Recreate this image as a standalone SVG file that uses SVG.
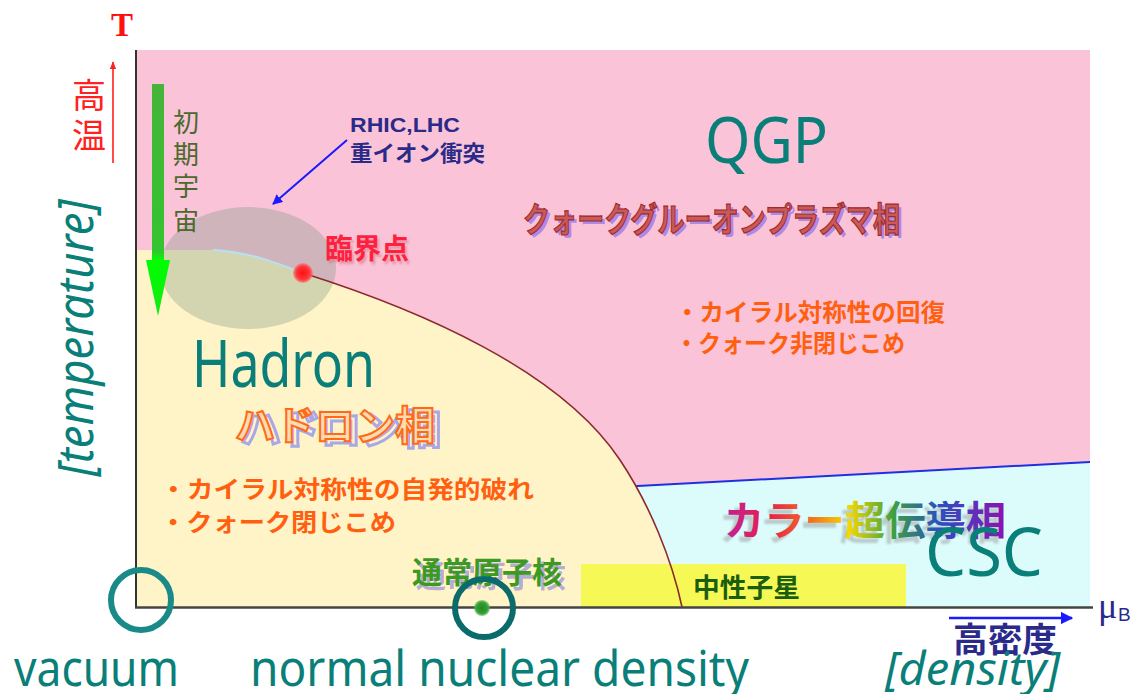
<svg xmlns="http://www.w3.org/2000/svg" width="1131" height="694" viewBox="0 0 1131 694">
<style>
.teal{font-family:"Noto Sans","Open Sans",sans-serif;fill:#0a7f79;}
.jp{font-family:"Noto Sans CJK JP","Noto Sans",sans-serif;}
.orange{fill:#ff6010;font-weight:bold;}
</style>
<defs>
<linearGradient id="gArrow" x1="0" y1="84" x2="0" y2="316" gradientUnits="userSpaceOnUse">
<stop offset="0" stop-color="#46b43a"/><stop offset="0.72" stop-color="#34c430"/><stop offset="0.76" stop-color="#00ff00"/><stop offset="1" stop-color="#14e814"/>
</linearGradient>
<linearGradient id="gRainbow" x1="724" y1="0" x2="1006" y2="0" gradientUnits="userSpaceOnUse">
<stop offset="0" stop-color="#c0209a"/><stop offset="0.16" stop-color="#e8204a"/><stop offset="0.3" stop-color="#f06a20"/><stop offset="0.44" stop-color="#f8d800"/><stop offset="0.6" stop-color="#3ea040"/><stop offset="0.76" stop-color="#2a50c0"/><stop offset="1" stop-color="#9010b0"/>
</linearGradient>
<radialGradient id="gRed"><stop offset="0" stop-color="#ff1010"/><stop offset="0.7" stop-color="#ff3a3a"/><stop offset="1" stop-color="#ff6a7a" stop-opacity="0.6"/></radialGradient>
<radialGradient id="gGreen"><stop offset="0" stop-color="#1f8a1f"/><stop offset="0.7" stop-color="#36a036"/><stop offset="1" stop-color="#5ab85a" stop-opacity="0.6"/></radialGradient>
<marker id="mBlue" viewBox="0 0 10 10" refX="9" refY="5" markerWidth="5" markerHeight="5" orient="auto"><path d="M0,0 L10,5 L0,10 z" fill="#1a1aff"/></marker>
<marker id="mRed" viewBox="0 0 10 10" refX="9" refY="5" markerWidth="5" markerHeight="5" orient="auto"><path d="M0,1 L10,5 L0,9 z" fill="#ff2020"/></marker>
<filter id="blur1"><feGaussianBlur stdDeviation="1.2"/></filter>
</defs>
<rect width="1131" height="694" fill="#ffffff"/>

<g id="regions">
<rect id="qgp-region" x="136" y="50" width="954" height="557" fill="#fac3d8"/>
<polygon id="csc-region" points="600,488 1090,462 1090,607 600,607" fill="#dcfcfc"/>
<line x1="600" y1="488" x2="1090" y2="462" stroke="#2030e0" stroke-width="2"/>
<path id="hadron-region" d="M136,250 L213,250 C250,252 280,264 303,273 C420,310 560,370 620,460 C650,505 672,560 682,607 L136,607 Z" fill="#fff3c8"/>
<rect id="neutron-star-region" x="581" y="564" width="325" height="43" fill="#f6f955"/>
<ellipse id="collision-ellipse" cx="248" cy="268" rx="88" ry="61" fill="#7a9880" fill-opacity="0.33"/>
<path d="M213,250 C250,252 280,264 303,273" fill="none" stroke="#b8e0f0" stroke-width="2"/>
<path d="M303,273 C420,310 560,370 620,460 C650,505 672,560 682,607" fill="none" stroke="#8a2a30" stroke-width="1.6"/>
</g>

<g id="axes">
<line x1="136" y1="50" x2="136" y2="608" stroke="#333" stroke-width="2"/>
<line x1="135" y1="607.5" x2="1093" y2="607.5" stroke="#444" stroke-width="2.5"/>
<text x="122" y="36" text-anchor="middle" font-family="Liberation Serif,serif" font-weight="bold" font-size="33" fill="#ff1010">T</text>
<text x="1098" y="618" font-family="Liberation Serif,serif" font-size="36" fill="#2a2a8a">μ</text>
<text x="1118" y="621" font-family="Liberation Sans,sans-serif" font-size="19" fill="#2a2a8a">B</text>
</g>

<g id="connectors">
<line x1="113" y1="163" x2="113" y2="62" stroke="#ff2020" stroke-width="1.6" marker-end="url(#mRed)"/>
<line x1="347" y1="140" x2="273" y2="204" stroke="#1a1aff" stroke-width="2" marker-end="url(#mBlue)"/>
<line x1="949" y1="618" x2="1072" y2="618" stroke="#1a1aff" stroke-width="2.5" marker-end="url(#mBlue)"/>
<g id="early-universe-arrow">
<rect x="152" y="84" width="12" height="178" fill="url(#gArrow)"/>
<polygon points="146,260 170,260 158,316" fill="url(#gArrow)"/>
</g>
</g>

<g id="high-temp">
<text class="jp" x="89" y="108" text-anchor="middle" font-size="34" fill="#ff2020">高</text>
<text class="jp" x="89" y="148" text-anchor="middle" font-size="34" fill="#ff2020">温</text>
</g>

<g id="early-universe" class="jp" font-size="26" fill="#4a6a2e" text-anchor="middle">
<text x="186" y="132">初</text>
<text x="186" y="164">期</text>
<text x="186" y="196">宇</text>
<text x="186" y="230">宙</text>
</g>

<g id="temperature-label">
<text class="teal" transform="translate(93,338) rotate(-90)" text-anchor="middle" font-size="50" font-style="italic" textLength="277" lengthAdjust="spacingAndGlyphs">[temperature]</text>
</g>

<g id="collision-label" class="jp" fill="#2a2a88" font-weight="bold">
<text x="350" y="132" font-family="Liberation Sans,sans-serif" font-size="21" textLength="110" lengthAdjust="spacingAndGlyphs">RHIC,LHC</text>
<text x="350" y="161" font-size="22" textLength="135" lengthAdjust="spacingAndGlyphs">重イオン衝突</text>
</g>

<g id="critical-point">
<text class="jp" x="327" y="262" font-size="28" fill="#d06a70" opacity="0.5" filter="url(#blur1)" font-weight="bold">臨界点</text>
<text class="jp" x="325" y="259" font-size="28" fill="#ff2040" font-weight="bold">臨界点</text>
<circle cx="303" cy="273" r="10" fill="url(#gRed)"/>
</g>

<g id="qgp">
<text class="teal" x="705" y="163" font-size="63" textLength="123" lengthAdjust="spacingAndGlyphs">QGP</text>
<text class="jp" x="526" y="235" font-size="34" fill="#9a7ce8" opacity="0.8" textLength="377" lengthAdjust="spacingAndGlyphs" font-weight="bold">クォークグルーオンプラズマ相</text>
<text class="jp" x="523" y="232" font-size="34" fill="#c85a5a" stroke="#a02a2a" stroke-width="1.2" textLength="377" lengthAdjust="spacingAndGlyphs" font-weight="bold">クォークグルーオンプラズマ相</text>
<text class="jp orange" x="675" y="321" font-size="24" textLength="270" lengthAdjust="spacingAndGlyphs">・カイラル対称性の回復</text>
<text class="jp orange" x="675" y="352" font-size="24" textLength="230" lengthAdjust="spacingAndGlyphs">・クォーク非閉じこめ</text>
</g>

<g id="hadron">
<text class="teal" x="192" y="387" font-size="66" textLength="183" lengthAdjust="spacingAndGlyphs">Hadron</text>
<text class="jp" x="241" y="444" font-size="40" fill="none" stroke="#8e8ef0" stroke-width="3" opacity="0.75" textLength="200" lengthAdjust="spacingAndGlyphs" font-weight="bold">ハドロン相</text>
<text class="jp" x="235" y="440" font-size="40" fill="#ffdcb0" stroke="#ff6a1a" stroke-width="2" textLength="200" lengthAdjust="spacingAndGlyphs" font-weight="bold">ハドロン相</text>
<text class="jp orange" x="160" y="498" font-size="24" textLength="374" lengthAdjust="spacingAndGlyphs">・カイラル対称性の自発的破れ</text>
<text class="jp orange" x="160" y="531" font-size="24" textLength="236" lengthAdjust="spacingAndGlyphs">・クォーク閉じこめ</text>
</g>

<g id="normal-nucleus">
<text class="jp" x="416" y="587" font-size="30" fill="#9a90d8" opacity="0.7" textLength="150" lengthAdjust="spacingAndGlyphs" font-weight="bold">通常原子核</text>
<text class="jp" x="412" y="583" font-size="30" fill="#3c9a22" textLength="150" lengthAdjust="spacingAndGlyphs" font-weight="bold">通常原子核</text>
<circle cx="482" cy="608" r="8" fill="url(#gGreen)"/>
<circle cx="484" cy="608" r="29" fill="none" stroke="#0a6b6b" stroke-width="6"/>
</g>

<g id="vacuum">
<circle cx="141" cy="600" r="30" fill="none" stroke="#1a8a88" stroke-width="6"/>
<text class="teal" x="14" y="686" font-size="49" textLength="165" lengthAdjust="spacingAndGlyphs">vacuum</text>
<text class="teal" x="250" y="686" font-size="49" textLength="499" lengthAdjust="spacingAndGlyphs">normal nuclear density</text>
</g>

<g id="neutron-star">
<text class="jp" x="693" y="597" font-size="26" fill="#1b5e0f" font-weight="bold" textLength="107" lengthAdjust="spacingAndGlyphs">中性子星</text>
</g>

<g id="csc">
<text class="jp" x="719" y="540" font-size="40" fill="#909090" opacity="0.45" filter="url(#blur1)" textLength="282" lengthAdjust="spacingAndGlyphs" font-weight="bold">カラー超伝導相</text>
<text class="jp" x="724" y="535" font-size="40" fill="url(#gRainbow)" textLength="282" lengthAdjust="spacingAndGlyphs" font-weight="bold">カラー超伝導相</text>
<text class="teal" x="925" y="576" font-size="67" textLength="118" lengthAdjust="spacingAndGlyphs">CSC</text>
</g>

<g id="density-label">
<text class="jp" x="953" y="652" font-size="34" fill="#2a2a8a" textLength="104" lengthAdjust="spacingAndGlyphs" font-weight="bold">高密度</text>
<text class="teal" x="885" y="685" font-size="45" font-style="italic" textLength="175" lengthAdjust="spacingAndGlyphs">[density]</text>
</g>
</svg>
